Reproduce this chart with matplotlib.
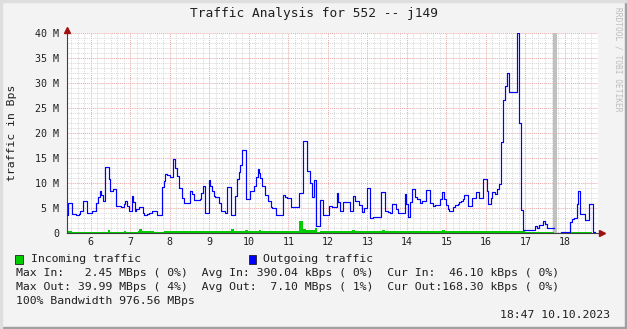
import numpy as np
import matplotlib
matplotlib.use("Agg")
import matplotlib.pyplot as plt
from matplotlib.ticker import MultipleLocator
from matplotlib.patches import Rectangle

plt.rcParams['font.family'] = ['DejaVu Sans Mono']

# outgoing traffic, MBps: step start (day of month) and value
out_t = [5.40, 5.43, 5.53, 5.62, 5.69, 5.73, 5.80, 5.91, 6.02, 6.12, 6.19, 6.22, 6.27, 6.30,
         6.37, 6.45, 6.49, 6.57, 6.65, 6.76, 6.84, 6.87, 6.92, 6.96, 7.03, 7.08, 7.12, 7.15,
         7.23, 7.32, 7.35, 7.41, 7.48, 7.55, 7.60, 7.67, 7.79, 7.85, 7.89, 7.94, 8.00, 8.07,
         8.12, 8.19, 8.22, 8.31, 8.36, 8.51, 8.56, 8.61, 8.76, 8.80, 8.83, 8.90, 8.98, 9.02,
         9.07, 9.12, 9.15, 9.24, 9.29, 9.40, 9.45, 9.56, 9.64, 9.69, 9.74, 9.78, 9.83, 9.93,
         10.03, 10.13, 10.18, 10.22, 10.25, 10.28, 10.33, 10.40, 10.49, 10.55, 10.59, 10.69,
         10.87, 10.92, 10.97, 11.08, 11.21, 11.28, 11.38, 11.48, 11.55, 11.59, 11.64, 11.70,
         11.80, 11.89, 12.02, 12.11, 12.22, 12.27, 12.32, 12.38, 12.57, 12.63, 12.70, 12.78,
         12.86, 12.91, 12.99, 13.06, 13.15, 13.35, 13.45, 13.53, 13.58, 13.63, 13.73, 13.77,
         13.95, 13.99, 14.04, 14.09, 14.14, 14.21, 14.27, 14.33, 14.38, 14.43, 14.49, 14.58,
         14.66, 14.71, 14.83, 14.88, 14.93, 14.98, 15.03, 15.07, 15.17, 15.22, 15.29, 15.32,
         15.37, 15.42, 15.46, 15.54, 15.64, 15.74, 15.84, 15.93, 16.02, 16.06, 16.12, 16.16,
         16.22, 16.28, 16.33, 16.38, 16.43, 16.48, 16.53, 16.58, 16.78, 16.85, 16.88, 16.95,
         17.24, 17.29, 17.34, 17.44, 17.49, 17.54, 17.72, 17.81, 17.91, 18.01, 18.12, 18.18,
         18.23, 18.30, 18.33, 18.39, 18.50, 18.60, 18.71]
out_v = [3.7, 6.1, 3.9, 3.6, 3.9, 4.4, 6.5, 4.1, 4.5, 6.1, 7.2, 8.5, 7.6, 6.4,
         13.3, 10.9, 8.4, 8.9, 5.5, 5.3, 5.9, 6.4, 5.5, 4.5, 7.5, 6.3, 4.5, 4.9,
         5.3, 4.0, 3.7, 3.9, 4.1, 4.5, 4.4, 3.7, 9.3, 10.5, 11.9, 11.6, 11.2, 14.9,
         13.1, 11.5, 9.1, 7.1, 6.1, 8.5, 7.9, 6.7, 6.8, 8.1, 9.5, 4.1, 10.7, 9.5,
         8.5, 7.5, 7.3, 6.0, 4.4, 4.1, 9.3, 3.7, 7.5, 10.9, 12.3, 13.7, 16.7, 6.8,
         8.5, 9.5, 11.2, 12.8, 12.0, 11.1, 9.5, 7.6, 6.5, 5.3, 5.1, 3.7,
         7.7, 7.3, 7.1, 5.2, 5.3, 8.1, 18.5, 12.4, 10.0, 7.2, 10.7, 1.5,
         6.7, 3.6, 5.4, 5.2, 8.0, 6.3, 4.4, 6.3, 4.5, 7.5, 6.4, 5.6,
         4.3, 5.1, 9.1, 3.1, 3.3, 8.3, 4.5, 4.3, 4.1, 5.9, 4.9, 4.0,
         7.9, 5.9, 3.3, 6.3, 8.9, 7.2, 6.8, 6.1, 6.4, 6.5, 8.7, 6.0,
         5.5, 5.6, 6.9, 8.3, 6.8, 5.6, 4.9, 4.4, 5.2, 5.6, 5.9, 6.3,
         6.4, 6.9, 7.6, 5.5, 7.1, 8.3, 7.1, 10.9, 8.5, 5.8, 7.1, 8.3,
         7.9, 8.9, 9.8, 18.3, 26.7, 29.5, 32.1, 28.3, 39.99, 22.1, 4.6, 0.7,
         1.5, 1.1, 1.6, 2.5, 1.8, 1.0, np.nan, 0.07, 0.3, 0.2, 2.2, 2.9,
         3.0, 5.8, 8.5, 3.9, 2.6, 5.9, 0.2]

# incoming traffic, MBps
in_t = [5.40, 5.43, 5.53, 5.75, 6.00, 6.44, 6.49, 6.84, 6.88, 7.20, 7.22, 7.30, 7.60,
        7.85, 8.10, 8.50, 8.90, 9.00, 9.20, 9.54, 9.62, 9.90, 9.98, 10.25, 10.32, 10.50,
        10.80, 10.95, 11.28, 11.38, 11.45, 11.67, 11.72, 11.80, 12.00, 12.60, 12.68,
        13.38, 13.45, 14.00, 14.20, 14.50, 14.60, 14.90, 14.97, 15.50, 16.00, 16.60,
        16.90, 17.00, 17.35, 17.60, 17.72, 17.81, 18.00, 18.35, 18.45, 18.70]
in_v = [0.15, 0.3, 0.15, 0.2, 0.25, 0.5, 0.25, 0.45, 0.25, 0.4, 0.7, 0.3, 0.25,
        0.4, 0.35, 0.3, 0.35, 0.4, 0.3, 0.7, 0.45, 0.6, 0.4, 0.6, 0.4, 0.3,
        0.45, 0.4, 2.45, 0.8, 0.6, 1.0, 0.1, 0.3, 0.35, 0.5, 0.35,
        0.5, 0.35, 0.4, 0.3, 0.45, 0.3, 0.5, 0.35, 0.3, 0.35, 0.4,
        0.35, 0.1, 0.25, 0.2, np.nan, 0.05, 0.1, 0.2, 0.1, 0.05]
t_end = 18.77

gap_start, gap_end = 17.70, 17.80
days = list(range(6, 19))
yticks = [0, 5, 10, 15, 20, 25, 30, 35, 40]
ylabels = ['0'] + ['%d M' % v for v in yticks[1:]]

W, H = 627, 329
fig = plt.figure(figsize=(W / 100, H / 100), dpi=100)
fig.patch.set_facecolor('#f3f3f3')

def fx(x):
    return x / W

def fy(y):
    return 1 - y / H

# frame shading
fig.patches.append(Rectangle((0, 0), 1, 2 / H, transform=fig.transFigure, color='#a0a0a0', zorder=0))
fig.patches.append(Rectangle((1 - 2 / W, 0), 2 / W, 1, transform=fig.transFigure, color='#a0a0a0', zorder=0))
fig.patches.append(Rectangle((0, 1 - 2 / H), 1, 2 / H, transform=fig.transFigure, color='#dedede', zorder=0))
fig.patches.append(Rectangle((0, 0), 2 / W, 1, transform=fig.transFigure, color='#dedede', zorder=0))

left, right, top, bottom = 67, 597.5, 33, 233
ax = fig.add_axes([fx(left), fy(bottom), (right - left) / W, (bottom - top) / H])
ax.set_facecolor('white')
ax.set_xlim(5.397, 5.397 + (right - left) / 39.5)
ax.set_ylim(0, 40)

ax.set_xticks(days)
ax.set_xticklabels([str(d) for d in days])
ax.set_yticks(yticks)
ax.set_yticklabels(ylabels)
ax.xaxis.set_minor_locator(MultipleLocator(1 / 6))
ax.yaxis.set_minor_locator(MultipleLocator(1))
ax.tick_params(which='both', length=0, labelsize=7.2, colors='#202020')
ax.tick_params(axis='x', pad=3)
ax.tick_params(axis='y', pad=5.5)
ax.grid(which='minor', color='#d8d8d8', linestyle=(0, (1, 1)), lw=0.7)
ax.grid(which='major', color='#eaa6a6', linestyle=(0, (1, 1)), lw=0.7)
ax.set_axisbelow(True)
for s in ['top', 'right']:
    ax.spines[s].set_visible(False)
for s in ['left', 'bottom']:
    ax.spines[s].set_color('#404040')
    ax.spines[s].set_linewidth(0.8)

ax.axvspan(gap_start, gap_end, color='#c0c0c0', lw=0, zorder=1.5)

ti = np.array(in_t + [t_end])
vi = np.nan_to_num(np.array(in_v + [in_v[-1]]))
ax.fill_between(ti, vi, step='post', color='#00cc00', lw=0, zorder=2)

to = np.array(out_t + [t_end])
vo = np.array(out_v + [out_v[-1]])
ax.step(to, vo, where='post', color='#0000ff', lw=0.85, zorder=3)

# axis arrows
ax.plot([1 + 4 / (right - left)], [0], marker='>', ms=4, color='#a01010',
        transform=ax.transAxes, clip_on=False, zorder=5)
ax.plot([0], [1 + 3 / (bottom - top)], marker='^', ms=4, color='#a01010',
        transform=ax.transAxes, clip_on=False, zorder=5)

fig.text(0.5, fy(13.5), 'Traffic Analysis for 552 -- j149', ha='center', va='center',
         fontsize=9.3, color='#202020')
fig.text(fx(12), fy(133), 'traffic in Bps', rotation=90, ha='center', va='center',
         fontsize=8.25, color='#202020')
fig.text(fx(618), fy(59), 'RRDTOOL / TOBI OETIKER', rotation=-90, ha='center', va='center',
         fontsize=5.7, color='#bcbcbc')

# legend
for bx, col, label, tx in [(15.5, '#00cc00', 'Incoming traffic', 31),
                          (248.5, '#0000ff', 'Outgoing traffic', 263)]:
    fig.patches.append(Rectangle((fx(bx), fy(264)), 7.5 / W, 9.5 / H, transform=fig.transFigure,
                                 facecolor=col, edgecolor='#202020', lw=0.6))
    fig.text(fx(tx), fy(259), label, ha='left', va='center', fontsize=8.25, color='#202020')

lines = [
    'Max In:   2.45 MBps ( 0%)  Avg In: 390.04 kBps ( 0%)  Cur In:  46.10 kBps ( 0%)',
    'Max Out: 39.99 MBps ( 4%)  Avg Out:  7.10 MBps ( 1%)  Cur Out:168.30 kBps ( 0%)',
    '100% Bandwidth 976.56 MBps',
]
for i, s in enumerate(lines):
    fig.text(fx(16), fy(273.3 + 14 * i), s, ha='left', va='center', fontsize=8.25, color='#202020')
fig.text(fx(610), fy(315.3), '18:47 10.10.2023', ha='right', va='center', fontsize=8.25,
         color='#202020')

fig.savefig('out.png', dpi=100, facecolor=fig.get_facecolor())
